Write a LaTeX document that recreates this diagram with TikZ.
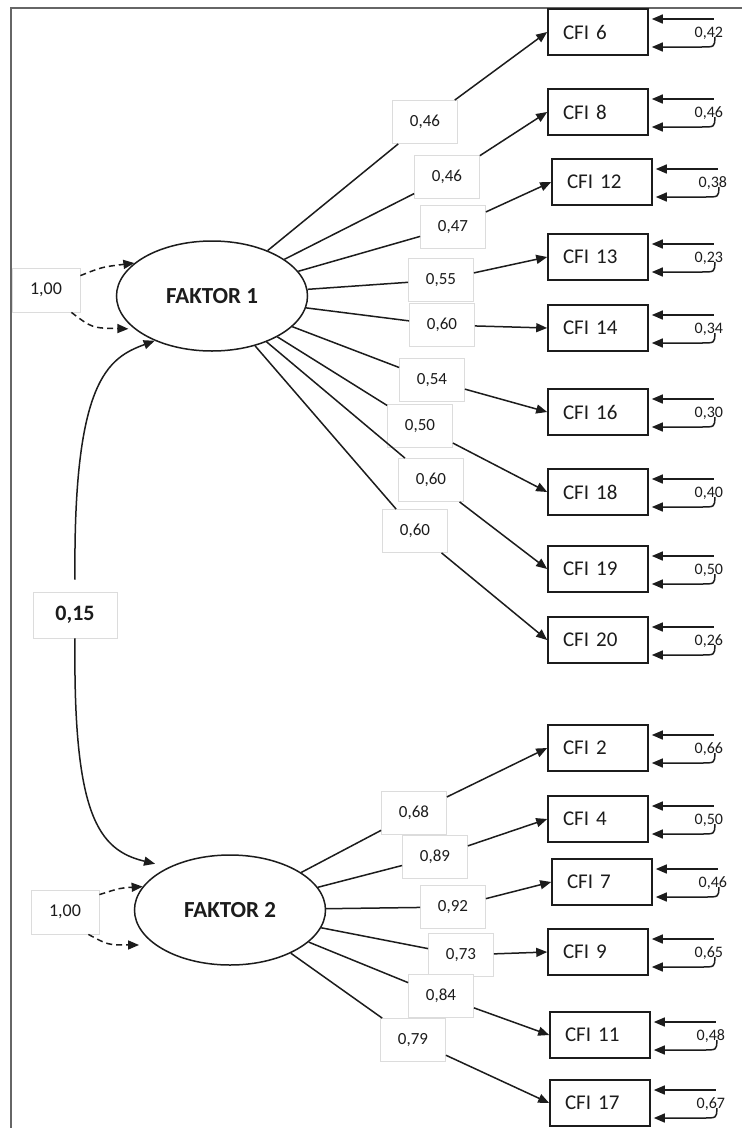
\documentclass[tikz,border=0pt]{standalone}
\usepackage{fontspec}
\setmainfont{Carlito}
\usepackage{tikz}
\usetikzlibrary{shapes.geometric,arrows.meta,calc}
\definecolor{darktext}{HTML}{1C1C1C}
\definecolor{framegray}{HTML}{666666}
\definecolor{boxgray}{HTML}{DCDCDC}

\tikzset{
  latent/.style={ellipse, draw=darktext, line width=1.5pt, minimum width=191pt, minimum height=110pt,
    inner sep=0pt, text=darktext, font=\fontsize{23}{26}\selectfont\bfseries},
  item/.style={rectangle, draw=darktext, line width=1.6pt, minimum height=46pt, inner xsep=15pt,
    inner ysep=0pt, text width=70pt, align=left, text=darktext, font=\fontsize{21}{24}\selectfont},
  coef/.style={rectangle, draw=boxgray, line width=0.8pt, fill=white, minimum width=65pt,
    minimum height=43pt, inner sep=0pt, text=darktext, font=\fontsize{17}{19}\selectfont},
  varbox/.style={coef, minimum width=68pt, minimum height=44pt, font=\fontsize{18}{20}\selectfont},
  covbox/.style={coef, minimum width=84pt, minimum height=46pt, font=\fontsize{22}{24}\selectfont\bfseries},
  errlab/.style={inner sep=0pt, text=darktext, font=\fontsize{16}{18}\selectfont},
  load/.style={draw=darktext, line width=1.5pt},
  loadarrow/.style={load, -{Triangle[length=11pt,width=9pt]}},
  resid/.style={draw=darktext, line width=1.5pt, -{Triangle[length=11pt,width=9pt]}},
  fixvar/.style={draw=darktext, line width=1.5pt, dash pattern=on 6pt off 4pt, -{Triangle[length=11pt,width=9pt]}}
}

\begin{document}
\begin{tikzpicture}[x=1pt,y=-1pt]
\useasboundingbox (0,0) rectangle (742,1128);
\fill[white] (0,0) rectangle (742,1128);
% frame
\draw[framegray, line width=1.6pt] (11,1128) -- (11,8) -- (742,8);

% factors
\node[latent] (f1) at (212,296) {FAKTOR 1};
\node[latent] (f2) at (230,910) {FAKTOR 2};

% items with residuals
\foreach \n/\px/\py/\e in {6/598/32/{0,42}, 8/598/112/{0,46}, 12/602/182/{0,38}, 13/598/257/{0,23},
    14/598/328/{0,34}, 16/598/412/{0,30}, 18/598/492/{0,40}, 19/598/569/{0,50}, 20/598/640/{0,26},
    2/598/748/{0,66}, 4/598/819/{0,50}, 7/602/882/{0,46}, 9/598/952/{0,65}, 11/600/1035/{0,48},
    17/600/1103/{0,67}} {
  \node[item] (c\n) at (\px,\py) {CFI \n};
  \node[errlab] (e\n) at ([xshift=60pt,yshift=-1pt]c\n.east) {\e};
  \coordinate (ra\n) at ([xshift=65pt,yshift=13pt]c\n.east);
  \coordinate (rd\n) at ([xshift=3pt,yshift=13pt]c\n.east);
  \coordinate (rb\n) at ([xshift=66pt,yshift=-5pt]c\n.east);
  \coordinate (rm\n) at ([xshift=52pt,yshift=-15pt]c\n.east);
  \coordinate (rc\n) at ([xshift=3pt,yshift=-15pt]c\n.east);
  \draw[resid] (ra\n) -- (rd\n);
  \draw[resid] (rb\n) .. controls ([yshift=-10pt]rb\n) .. (rm\n) -- (rc\n);
}

% loadings factor 1
\foreach \n/\lx/\ly/\v in {6/425/122/{0,46}, 8/447/177/{0,46}, 12/453/227/{0,47}, 13/441/280/{0,55},
    14/442/325/{0,60}, 16/432/380/{0,54}, 18/420/426/{0,50}, 19/431/480/{0,60}, 20/415/531/{0,60}} {
  \node[coef] (a\n) at (\lx,\ly) {\v};
  \draw[load] (f1) -- (a\n);
  \draw[loadarrow] (a\n) -- (c\n.west);
}

% loadings factor 2
\foreach \n/\lx/\ly/\v in {2/414/813/{0,68}, 4/435/857/{0,89}, 7/453/907/{0,92}, 9/461/955/{0,73},
    11/441/996/{0,84}, 17/413/1040/{0,79}} {
  \node[coef] (b\n) at (\lx,\ly) {\v};
  \draw[load] (f2) -- (b\n);
  \draw[loadarrow] (b\n) -- (c\n.west);
}

% factor variances
\node[varbox] (v1) at (46,290) {1,00};
\node[varbox] (v2) at (65,912) {1,00};
\draw[fixvar] ([yshift=-8pt]v1.north east) .. controls (102,267) .. (f1.157);
\draw[fixvar, shorten >=6pt] ([xshift=-9pt]v1.south east) .. controls (92,328) .. (f1.203);
\draw[fixvar] ([yshift=-5pt]v2.north east) .. controls (120,888) .. (f2.165);
\draw[fixvar, shorten >=16pt] ([xshift=-11pt]v2.south east) .. controls (108,945) .. (f2.205);

% covariance
\node[covbox] (k) at (75,615) {0,15};
\draw[resid] ([yshift=12pt]k.north) .. controls (73,380) and (108,358) .. (f1.218);
\draw[resid, shorten >=14pt] (k.south) .. controls (73,815) and (98,850) .. (f2.145);
\end{tikzpicture}
\end{document}
